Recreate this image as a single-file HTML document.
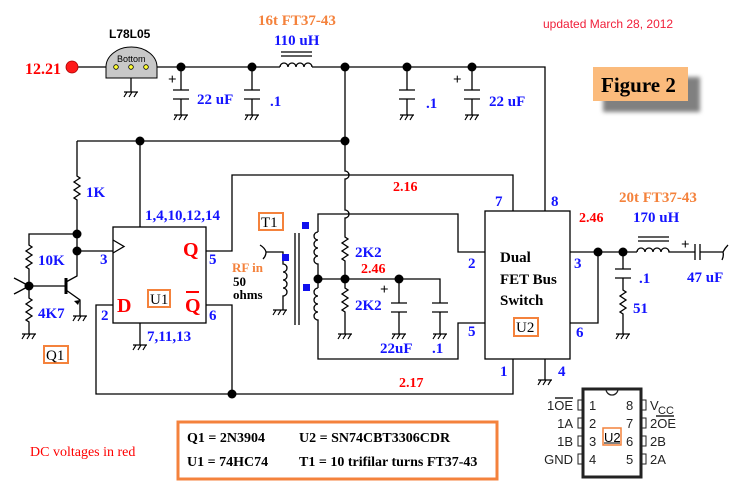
<!DOCTYPE html>
<html><head><meta charset="utf-8"><style>
html,body{margin:0;padding:0;background:#fff}
svg{display:block}
.b{font-family:"Liberation Serif",serif;font-weight:bold;font-size:15px;fill:#1414ff}
.r{font-family:"Liberation Serif",serif;font-weight:bold;font-size:14px;fill:#ff0000}
.o{font-family:"Liberation Serif",serif;font-weight:bold;font-size:15px;fill:#f4823c}
.k{font-family:"Liberation Serif",serif;font-weight:bold;font-size:14px;fill:#000}
.s{font-family:"Liberation Sans",sans-serif;font-size:13px;fill:#222}
</style></head><body>
<svg width="740" height="500" viewBox="0 0 740 500" xmlns="http://www.w3.org/2000/svg">
<defs>
<path id="g" d="M-7 0 H7 M-7 5 l3 -5 M-2 5 l3 -5 M3 5 l3 -5"/>
</defs>
<g fill="none" stroke="#000" stroke-width="1.3">
<path d="M72 67 H106 M157 67 H280 M312 67 H545 V211"/>
<path d="M280 67 a4 4 0 0 1 8 0 a4 4 0 0 1 8 0 a4 4 0 0 1 8 0 a4 4 0 0 1 8 0"/>
<path d="M281 52 H312 M281 56 H312"/>
<path d="M131 67 V92"/>
<path d="M181 67 V90 M173 90 H189 M173 99 H189 M181 99 V115"/>
<path d="M252 67 V90 M244 90 H260 M244 99 H260 M252 99 V115"/>
<path d="M407 67 V90 M399 90 H415 M399 99 H415 M407 99 V115"/>
<path d="M472 67 V90 M464 90 H480 M464 99 H480 M472 99 V115"/>
</g>
<g fill="none" stroke="#000" stroke-width="1.2">
<use href="#g" x="131" y="92"/><use href="#g" x="181" y="115"/><use href="#g" x="252" y="115"/>
<use href="#g" x="407" y="115"/><use href="#g" x="472" y="115"/>
<use href="#g" x="80" y="316"/><use href="#g" x="29" y="334"/><use href="#g" x="140" y="345"/>
<use href="#g" x="280" y="310"/><use href="#g" x="345" y="334"/><use href="#g" x="399" y="334"/><use href="#g" x="440" y="334"/>
<use href="#g" x="545" y="380"/><use href="#g" x="623" y="334"/>
</g>
<g fill="none" stroke="#000" stroke-width="1.3">
<path d="M345 67 V171 a4 4 0 0 1 0 8 V210 a4 4 0 0 1 0 8 V237 l3 2 l-6 4 l6 4 l-6 4 l6 4 l-6 4 l3 2 V288 l3 2 l-6 4 l6 4 l-6 4 l6 4 l-6 4 l3 2 V334"/>
<path d="M77 141 H345"/>
<path d="M140 141 V227"/>
<path d="M77 141 V176 l3 2 l-6 4 l6 4 l-6 4 l6 4 l-6 4 l3 2 V251 H113"/>
<path d="M77 234 H29 V245 l3 2 l-6 4 l6 4 l-6 4 l6 4 l-6 4 l3 2 V298 l3 2 l-6 4 l6 4 l-6 4 l6 4 l-6 4 l3 2 V334"/>
<path d="M29 286 H65"/>
<path d="M14 278 q6 3 15 8 M14 294 q6 -3 15 -8" />
<path d="M66 278 V294" stroke-width="3"/>
<path d="M66 282 L77 276 V251 M66 290 L80 300 V316"/>
<rect x="113" y="227" width="93" height="96"/>
<path d="M113 240 L124 246.5 L113 253"/>
<path d="M140 323 V345"/>
<path d="M206 251 H232 V175 H513 V211" />
<path d="M206 305 H232 V394"/>
<path d="M113 305 H96 V394 H513 V359"/>
<rect x="485" y="211" width="85" height="148"/>
<path d="M545 359 V380"/>
<path d="M485 252 H458 V214 H318 V232"/>
<path d="M318 232 a4 4 0 0 0 0 8 a4 4 0 0 0 0 8 a4 4 0 0 0 0 8 a4 4 0 0 0 0 8 V288"/>
<path d="M318 288 a4 4 0 0 0 0 8 a4 4 0 0 0 0 8 a4 4 0 0 0 0 8 a4 4 0 0 0 0 8 V359 H458 V323 H485"/>
<path d="M318 279 H440 V303 M432 303 H448 M432 312 H448 M440 312 V334"/>
<path d="M399 279 V303 M391 303 H407 M391 312 H407 M399 312 V334"/>
<path d="M295 233 V325 M299 233 V325"/>
<path d="M266 252 H283 V264 a4 4 0 0 1 0 8 a4 4 0 0 1 0 8 a4 4 0 0 1 0 8 a4 4 0 0 1 0 8 V310"/>
<path d="M260 245 q5 3 6 7 q0 4 -3 7"/>
<path d="M570 252 H637 M570 323 H598 V252"/>
<path d="M637 252 a4 4 0 0 1 8 0 a4 4 0 0 1 8 0 a4 4 0 0 1 8 0 a4 4 0 0 1 8 0 H695 M638 237 H669 M638 241 H669"/>
<path d="M695 244 V260 M700 244 V260 M700 252 H723 q2 -4 5 -7 M723 252 q1 4 -1 8"/>
<path d="M623 252 V269 M615 269 H631 M615 278 H631 M623 278 V290 l3 2 l-6 4 l6 4 l-6 4 l6 4 l-6 4 l3 2 V334"/>
</g>
<g fill="#000">
<circle cx="181" cy="67" r="4.5"/><circle cx="252" cy="67" r="4.5"/><circle cx="345" cy="67" r="4.5"/>
<circle cx="407" cy="67" r="4.5"/><circle cx="472" cy="67" r="4.5"/>
<circle cx="140" cy="141" r="4.5"/><circle cx="345" cy="141" r="4.5"/>
<circle cx="77" cy="234" r="4.5"/><circle cx="77" cy="251" r="4.5"/><circle cx="29" cy="286" r="4.5"/>
<circle cx="232" cy="394" r="4.5"/>
<circle cx="318" cy="279" r="4.5"/><circle cx="345" cy="279" r="4.5"/><circle cx="399" cy="279" r="4.5"/>
<circle cx="598" cy="252" r="4.5"/><circle cx="623" cy="252" r="4.5"/>
<path d="M80 300 l-6 1 l4 4 z"/>
</g>
<circle cx="72" cy="67" r="6" fill="#ff1a1a" stroke="#a00" stroke-width="0.8"/>
<path d="M106 78 V67 A25.5 20 0 0 1 157 67 V78 Z" fill="#c8c8c8" stroke="#000" stroke-width="1"/>
<g fill="#ffff30" stroke="#000" stroke-width="0.8"><circle cx="116" cy="67" r="2.3"/><circle cx="131" cy="67" r="2.3"/><circle cx="146" cy="67" r="2.3"/></g>
<text x="117" y="62" style="font-family:'Liberation Sans',sans-serif;font-size:9px">Bottom</text>
<g fill="#1010ee"><rect x="302" y="222" width="7" height="7"/><rect x="282" y="254" width="7" height="7"/><rect x="303" y="284" width="7" height="7"/></g>
<g class="k" style="font-size:15px"><text x="168" y="84">+</text><text x="453" y="84">+</text><text x="380" y="294">+</text><text x="681" y="249">+</text></g>
<text x="25" y="74" class="r" style="font-size:16px">12.21</text>
<text x="109" y="38" style="font-family:'Liberation Sans',sans-serif;font-weight:bold;font-size:12px">L78L05</text>
<text x="258" y="25" class="o">16t FT37-43</text>
<text x="274" y="45" class="b">110 uH</text>
<text x="197" y="104" class="b">22 uF</text>
<text x="270" y="106" class="b">.1</text>
<text x="426" y="108" class="b">.1</text>
<text x="489" y="106" class="b">22 uF</text>
<text x="543" y="28" style="font-family:'Liberation Sans',sans-serif;font-size:12px;fill:#f0203a">updated March 28, 2012</text>
<rect x="603" y="77" width="97" height="35" fill="#808080" style="filter:blur(2px)"/>
<rect x="593" y="67" width="95" height="34" fill="#fbbb7c"/>
<text x="601" y="92" style="font-family:'Liberation Serif',serif;font-weight:bold;font-size:21px">Figure 2</text>
<text x="86" y="197" class="b">1K</text>
<text x="145" y="220" class="b">1,4,10,12,14</text>
<text x="38" y="265" class="b">10K</text>
<text x="38" y="318" class="b">4K7</text>
<text x="100" y="264" class="b">3</text>
<text x="101" y="320" class="b">2</text>
<text x="209" y="264" class="b">5</text>
<text x="209" y="320" class="b">6</text>
<text x="147" y="341" class="b">7,11,13</text>
<text x="183" y="256" style="font-family:'Liberation Serif',serif;font-weight:bold;font-size:20px;fill:#f00">Q</text>
<text x="185" y="312" style="font-family:'Liberation Serif',serif;font-weight:bold;font-size:20px;fill:#f00">Q</text>
<path d="M186 292 H199" stroke="#f00" stroke-width="2"/>
<text x="117" y="312" style="font-family:'Liberation Serif',serif;font-weight:bold;font-size:20px;fill:#f00">D</text>
<rect x="148" y="290" width="22" height="17" fill="none" stroke="#f4823c" stroke-width="2"/>
<text x="150" y="304" class="k" style="font-weight:normal;font-size:15px">U1</text>
<rect x="44" y="346" width="24" height="17" fill="none" stroke="#f4823c" stroke-width="2"/>
<text x="46" y="360" class="k" style="font-weight:normal;font-size:15px">Q1</text>
<rect x="259" y="213" width="24" height="17" fill="none" stroke="#f4823c" stroke-width="2"/>
<text x="261" y="227" class="k" style="font-weight:normal;font-size:15px">T1</text>
<text x="232" y="272" class="o" style="font-size:13px">RF in</text>
<text x="233" y="286" class="k" style="font-size:13px">50</text>
<text x="233" y="299" class="k" style="font-size:13px">ohms</text>
<text x="355" y="257" class="b">2K2</text>
<text x="355" y="310" class="b">2K2</text>
<text x="361" y="273" class="r">2.46</text>
<text x="380" y="353" class="b">22uF</text>
<text x="432" y="353" class="b">.1</text>
<text x="393" y="191" class="r">2.16</text>
<text x="399" y="387" class="r">2.17</text>
<text x="495" y="206" class="b">7</text>
<text x="551" y="206" class="b">8</text>
<text x="468" y="268" class="b">2</text>
<text x="468" y="336" class="b">5</text>
<text x="500" y="376" class="b">1</text>
<text x="558" y="376" class="b">4</text>
<text x="574" y="268" class="b">3</text>
<text x="576" y="337" class="b">6</text>
<text x="500" y="262" class="k" style="font-size:15px">Dual</text>
<text x="500" y="284" class="k" style="font-size:15px">FET Bus</text>
<text x="500" y="305" class="k" style="font-size:15px">Switch</text>
<rect x="514" y="318" width="24" height="18" fill="none" stroke="#f4823c" stroke-width="2"/>
<text x="516" y="332" class="k" style="font-weight:normal;font-size:15px">U2</text>
<text x="579" y="222" class="r">2.46</text>
<text x="619" y="202" class="o">20t FT37-43</text>
<text x="633" y="222" class="b">170 uH</text>
<text x="639" y="283" class="b">.1</text>
<text x="633" y="313" class="b">51</text>
<text x="687" y="282" class="b">47 uF</text>
<text x="30" y="456" style="font-family:'Liberation Serif',serif;font-size:14px;fill:#f00">DC voltages in red</text>
<rect x="178" y="422" width="319" height="57" fill="none" stroke="#f4823c" stroke-width="3"/>
<text x="187" y="442" class="k">Q1 = 2N3904</text>
<text x="299" y="442" class="k">U2 =  SN74CBT3306CDR</text>
<text x="187" y="466" class="k">U1 = 74HC74</text>
<text x="299" y="466" class="k">T1 = 10 trifilar turns FT37-43</text>
<rect x="583" y="389" width="58" height="88" fill="none" stroke="#222" stroke-width="3"/>
<path d="M606 389 a6 6 0 0 0 12 0" fill="none" stroke="#222" stroke-width="1.3"/>
<g fill="none" stroke="#222" stroke-width="1">
<rect x="578" y="400" width="4" height="10"/><rect x="578" y="418" width="4" height="10"/><rect x="578" y="436" width="4" height="10"/><rect x="578" y="454" width="4" height="10"/>
<rect x="642" y="400" width="4" height="10"/><rect x="642" y="418" width="4" height="10"/><rect x="642" y="436" width="4" height="10"/><rect x="642" y="454" width="4" height="10"/>
</g>
<g class="s"><text x="589" y="410">1</text><text x="589" y="428">2</text><text x="589" y="446">3</text><text x="589" y="464">4</text>
<text x="626" y="410">8</text><text x="626" y="428">7</text><text x="626" y="446">6</text><text x="626" y="464">5</text>
<text x="573" y="410" text-anchor="end">1OE</text><text x="573" y="428" text-anchor="end">1A</text><text x="573" y="446" text-anchor="end">1B</text><text x="573" y="464" text-anchor="end">GND</text>
<text x="650" y="410">V</text><text x="658" y="414" style="font-size:11px">CC</text>
<text x="650" y="428">2OE</text><text x="650" y="446">2B</text><text x="650" y="464">2A</text></g>
<path d="M555 398 H573 M656 416 H674" stroke="#222" stroke-width="1.5"/>
<rect x="603" y="428" width="18" height="17" fill="none" stroke="#f4823c" stroke-width="1.5"/>
<text x="604" y="442" class="s" style="fill:#000">U2</text>
<path d="M604 443 H620" stroke="#000" stroke-width="1"/>
</svg>
</body></html>
